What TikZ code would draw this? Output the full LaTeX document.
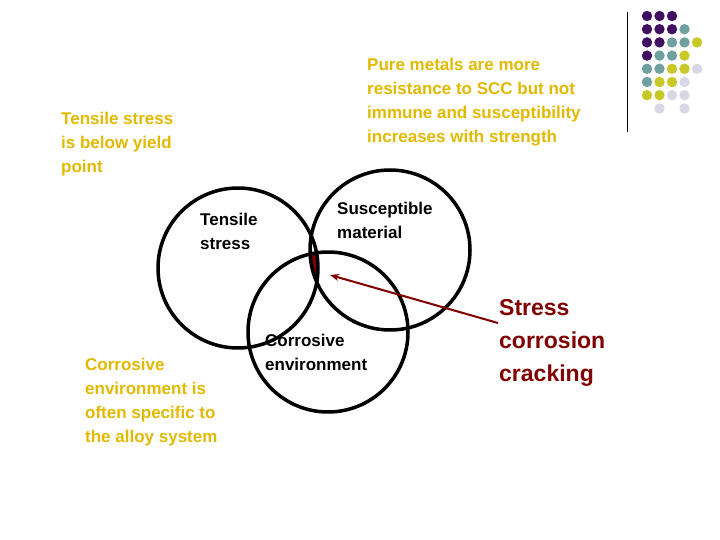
\documentclass[tikz,border=0pt]{standalone}
\usepackage{fontspec}
\usetikzlibrary{arrows.meta}
\setmainfont{Liberation Sans}
\definecolor{ylw}{RGB}{225,185,0}
\definecolor{dred}{RGB}{128,0,0}
\definecolor{cP}{RGB}{64,16,96}
\definecolor{cT}{RGB}{112,160,160}
\definecolor{cY}{RGB}{200,200,40}
\definecolor{cL}{RGB}{215,215,230}
\begin{document}
\begin{tikzpicture}[x=1pt,y=-1pt,
  circ/.style={draw=black,line width=3.5pt},
  lbl/.style={font=\fontsize{17}{24}\selectfont\bfseries,align=left,anchor=north west,inner sep=0pt},
  ylbl/.style={lbl,text=ylw}]
\useasboundingbox (0,0) rectangle (720,540);
\coordinate (cA) at (238,268);
\coordinate (cB) at (390,250);
\coordinate (cC) at (328,332);
\begin{scope}
\clip (cA) circle (80);
\clip (cB) circle (80);
\fill[dred] (cC) circle (80);
\end{scope}
\draw[circ] (cA) circle (80);
\draw[circ] (cB) circle (80);
\draw[circ] (cC) circle (80);
\node[ylbl] (t1) at (61,112) {Tensile stress\\is below yield\\point};
\node[ylbl] (t2) at (367,58) {Pure metals are more\\resistance to SCC but not\\immune and susceptibility\\increases with strength};
\node[ylbl] (t3) at (85,358) {Corrosive\\environment is\\often specific to\\the alloy system};
\node[lbl] (a) at (200,213) {Tensile\\stress};
\node[lbl] (b) at (337,202) {Susceptible\\material};
\node[lbl] (c) at (265,334) {Corrosive\\environment};
\node[lbl,text=dred,font=\fontsize{23}{33}\selectfont\bfseries] (scc) at (499,299) {Stress\\corrosion\\cracking};
\coordinate (tip) at (330,275);
\coordinate (s0) at (498,323);
\draw[dred,line width=2pt,-{Stealth[length=9pt,width=7pt]}] (s0) -- (tip);
\coordinate (v1) at (627,12); \coordinate (v2) at (627,132);
\draw[line width=0.8pt] (v1) -- (v2);
\foreach \r/\row in {0/{P,P,P},1/{P,P,P,T},2/{P,P,T,T,Y},3/{P,T,T,Y},4/{T,T,Y,Y,L},5/{T,Y,Y,L},6/{Y,Y,L,L}}{
  \foreach \cc [count=\i from 0] in \row {
    \fill[c\cc] (647+12.5*\i,16+13.2*\r) circle (5.2);
  }
}
\fill[cL] (659.5,108.5) circle (5.2);
\fill[cL] (684.5,108.5) circle (5.2);
\end{tikzpicture}
\end{document}
